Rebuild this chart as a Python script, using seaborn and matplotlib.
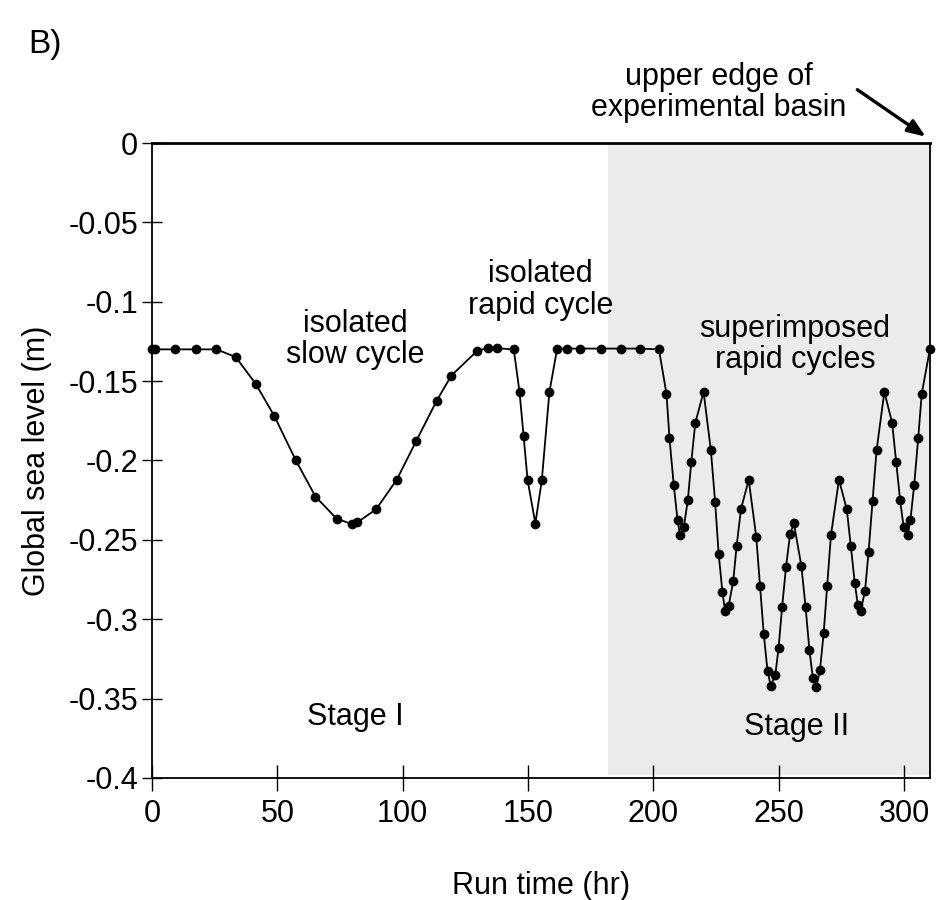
import matplotlib
matplotlib.use("Agg")
import matplotlib.pyplot as plt
import seaborn as sns
import pandas as pd

time_hr = [0, 1.2, 9, 17.4, 25.7, 33.4, 41.5, 48.8, 57.4, 65.2, 73.6, 79.6, 81.9, 89.4,
           97.6, 105.4, 113.5, 119.4, 129.8, 133.9, 137.5, 144.3, 146.6, 148.2, 149.8,
           152.9, 155.5, 158.5, 161.6, 165.5, 170.9, 179.1, 186.9, 194.5, 202.2, 205.2,
           206.4, 208.1, 209.6, 210.6, 212.1, 213.7, 215.1, 216.7, 220.0, 222.9, 224.6,
           226.0, 227.5, 228.6, 230.0, 231.8, 233.2, 234.9, 238.0, 241.0, 242.5, 244.0,
           245.5, 246.8, 248.6, 249.9, 251.3, 252.9, 254.5, 256.0, 259.0, 260.7, 262.2,
           263.6, 265.0, 266.4, 267.9, 269.3, 270.8, 274.0, 277.1, 278.7, 280.3, 281.5,
           282.6, 284.4, 285.8, 287.4, 289.0, 292.1, 295.2, 296.8, 298.4, 299.8, 301.4,
           302.5, 304.0, 305.6, 307.0, 310.3]

sea_level = [-0.13, -0.13, -0.13, -0.13, -0.13, -0.1348, -0.152, -0.172, -0.2, -0.2227,
             -0.2366, -0.24, -0.239, -0.2307, -0.2122, -0.1877, -0.1625, -0.1465, -0.1308,
             -0.1293, -0.1293, -0.13, -0.157, -0.1843, -0.2122, -0.2397, -0.2122, -0.157,
             -0.1295, -0.1295, -0.1295, -0.1295, -0.1295, -0.1295, -0.13, -0.158, -0.186,
             -0.2154, -0.2374, -0.247, -0.2422, -0.2252, -0.201, -0.1763, -0.1568, -0.1935,
             -0.226, -0.2586, -0.2827, -0.2951, -0.2916, -0.2762, -0.2536, -0.2307, -0.2122,
             -0.248, -0.2788, -0.3094, -0.3325, -0.342, -0.335, -0.3184, -0.2926, -0.2668,
             -0.2464, -0.2395, -0.2664, -0.2926, -0.3193, -0.3373, -0.3424, -0.3323, -0.3088,
             -0.2788, -0.247, -0.2122, -0.2307, -0.2536, -0.2771, -0.2909, -0.2951, -0.2821,
             -0.2577, -0.2254, -0.1935, -0.1568, -0.1763, -0.2007, -0.2252, -0.2422, -0.247,
             -0.2374, -0.2154, -0.186, -0.158, -0.1295]

x_ticks = [0, 50, 100, 150, 200, 250, 300]
y_ticks = [0, -0.05, -0.1, -0.15, -0.2, -0.25, -0.3, -0.35, -0.4]
y_tick_labels = ["0", "-0.05", "-0.1", "-0.15", "-0.2", "-0.25", "-0.3", "-0.35", "-0.4"]

sns.set_theme(style="ticks")
plt.rcParams['font.family'] = ['Liberation Sans', 'DejaVu Sans']
plt.rcParams['text.color'] = 'black'
plt.rcParams['axes.labelcolor'] = 'black'
FS = 22

df = pd.DataFrame({"time": time_hr, "sea": sea_level})

fig = plt.figure(figsize=(9.41, 9.0), dpi=100)
ax = fig.add_axes([0.1615, 0.1356, 0.8268, 0.7055])

ax.axvspan(182, 310.3, ymin=0.004, ymax=1, color="#ebebeb", lw=0, zorder=0)

sns.lineplot(data=df, x="time", y="sea", ax=ax, color="black", lw=1.3, sort=False,
             marker="o", markersize=7, markeredgewidth=0, clip_on=False, zorder=3)

ax.set_xlim(0, 310.3)
ax.set_ylim(-0.4, 0)
ax.set_xticks(x_ticks)
ax.set_xticklabels([str(t) for t in x_ticks], fontsize=FS)
ax.set_yticks(y_ticks)
ax.set_yticklabels(y_tick_labels, fontsize=FS)
ax.tick_params(axis="x", direction="inout", length=19, width=1, pad=6, colors="black")
ax.tick_params(axis="y", direction="inout", length=14, width=1, pad=3, colors="black")

for side in ["left", "right", "bottom"]:
    ax.spines[side].set_visible(True)
    ax.spines[side].set_color("black")
    ax.spines[side].set_linewidth(1.3)
ax.spines["top"].set_visible(True)
ax.spines["top"].set_color("black")
ax.spines["top"].set_linewidth(2.0)

ax.set_xlabel("Run time (hr)", fontsize=FS, labelpad=30)
ax.set_ylabel("Global sea level (m)", fontsize=FS, labelpad=12)

ax.text(81, -0.124, "isolated\nslow cycle", fontsize=FS, ha="center", va="center",
        linespacing=1.05)
ax.text(155, -0.0926, "isolated\nrapid cycle", fontsize=FS, ha="center", va="center",
        linespacing=1.05)
ax.text(256.5, -0.127, "superimposed\nrapid cycles", fontsize=FS, ha="center", va="center",
        linespacing=1.05)
ax.text(81, -0.3615, "Stage I", fontsize=FS, ha="center", va="center")
ax.text(257, -0.368, "Stage II", fontsize=FS, ha="center", va="center")

ax.annotate("", xy=(309.5, 0.003), xytext=(280.4, 0.0346),
            arrowprops=dict(arrowstyle="-|>,head_length=0.9,head_width=0.35",
                            color="black", lw=2.4), annotation_clip=False)
ax.text(226, 0.032, "upper edge of\nexperimental basin", fontsize=FS, ha="center",
        va="center", linespacing=1.05, clip_on=False)

fig.text(45 / 941, 1 - 45 / 900, "B)", fontsize=FS + 2, ha="center", va="center")

fig.savefig("out.png", dpi=100, facecolor="white")
